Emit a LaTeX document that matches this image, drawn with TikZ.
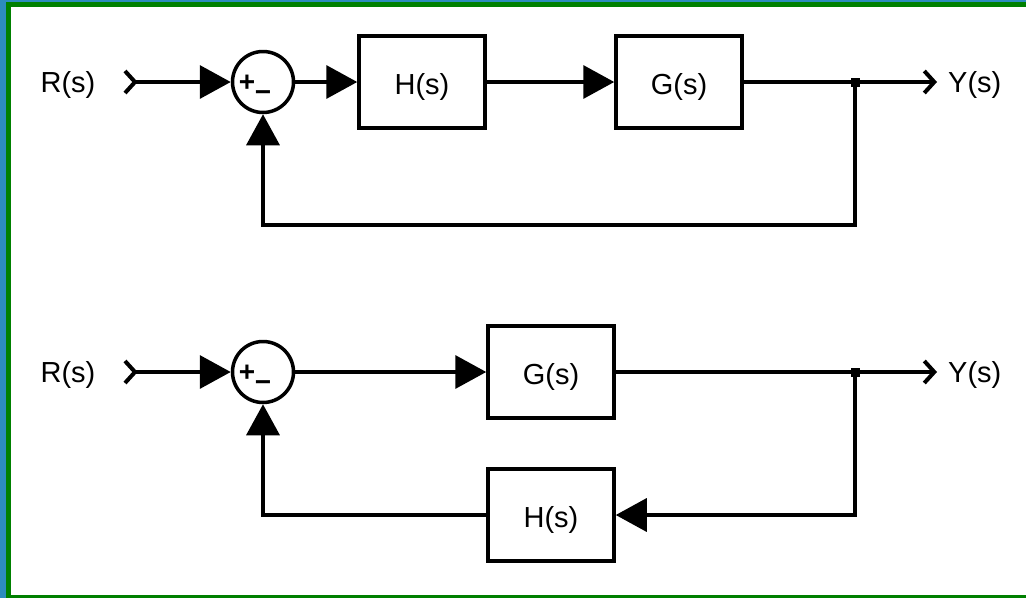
\documentclass[tikz,border=0pt]{standalone}
\usepackage{fontspec}
\setmainfont{Liberation Sans}
\usetikzlibrary{arrows.meta}
\definecolor{framegreen}{RGB}{0,128,0}
\definecolor{edgeblue}{RGB}{45,140,190}
\begin{document}
\begin{tikzpicture}[x=1pt,y=-1pt,
  wire/.style={line width=3.5pt},
  flow/.style={wire,-{Triangle[length=31pt,width=33pt]}},
  source/.style={wire,{Straight Barb[reversed,length=10pt,width=22pt,line width=4pt]}-{Triangle[length=31pt,width=33pt]}},
  sink/.style={wire,-{Straight Barb[length=10pt,width=22pt,line width=4pt]}},
  block/.style={draw,line width=3.5pt,minimum width=126pt,minimum height=92pt,inner sep=0pt,
    text height=28pt,text depth=3pt,font=\fontsize{29}{34}\selectfont},
  summer/.style={draw,circle,line width=3.5pt,minimum size=61pt,inner sep=0pt},
  lbl/.style={inner sep=0pt,font=\fontsize{29}{34}\selectfont},
  sign/.style={inner sep=0pt,font=\fontsize{28}{30}\selectfont\bfseries},
  junction/.style={fill,minimum size=9pt,inner sep=0pt}
]
% canvas and frame
\useasboundingbox (0,0) rectangle (1026,598);
\fill[white] (0,0) rectangle (1026,598);
\fill[edgeblue] (0,0) rectangle (6,598);
\fill[edgeblue] (0,0) rectangle (1026,2);
\fill[framegreen] (6,2) rectangle (11,598);
\fill[framegreen] (6,2) rectangle (1026,7);
\fill[framegreen] (6,595) rectangle (1026,598);

% ---------- upper loop: H(s) in the forward path ----------
\node[lbl] (r1) at (68,85) {R(s)};
\coordinate (u1) at (123,82);
\node[summer] (s1) at (263,82) {};
\node[sign] (p1) at (247,83) {+};
\node[sign] (m1) at (263,96) {−};
\node[block] (h1) at (422,82) {H(s)};
\node[block] (g1) at (679,82) {G(s)};
\node[junction] (b1) at (855,82) {};
\coordinate (y1end) at (937,82);
\node[lbl,anchor=west] (y1) at (948,85) {Y(s)};
\coordinate (f1) at (855,225);

\draw[source] (u1) -- (s1);
\draw[flow] (s1) -- (h1);
\draw[flow] (h1) -- (g1);
\draw[wire] (g1) -- (b1.center);
\draw[sink] (b1.center) -- (y1end);
\draw[flow] (b1.center) -- (f1) -| (s1);

% ---------- lower loop: H(s) in the feedback path ----------
\node[lbl] (r2) at (68,375) {R(s)};
\coordinate (u2) at (123,372);
\node[summer] (s2) at (263,372) {};
\node[sign] (p2) at (247,373) {+};
\node[sign] (m2) at (263,386) {−};
\node[block] (g2) at (551,372) {G(s)};
\node[junction] (b2) at (855,372) {};
\coordinate (y2end) at (937,372);
\node[lbl,anchor=west] (y2) at (948,375) {Y(s)};
\node[block] (h2) at (551,515) {H(s)};
\coordinate (f2) at (855,515);

\draw[source] (u2) -- (s2);
\draw[flow] (s2) -- (g2);
\draw[wire] (g2) -- (b2.center);
\draw[sink] (b2.center) -- (y2end);
\draw[flow] (b2.center) -- (f2) -- (h2);
\draw[flow] (h2) -| (s2);
\end{tikzpicture}
\end{document}
